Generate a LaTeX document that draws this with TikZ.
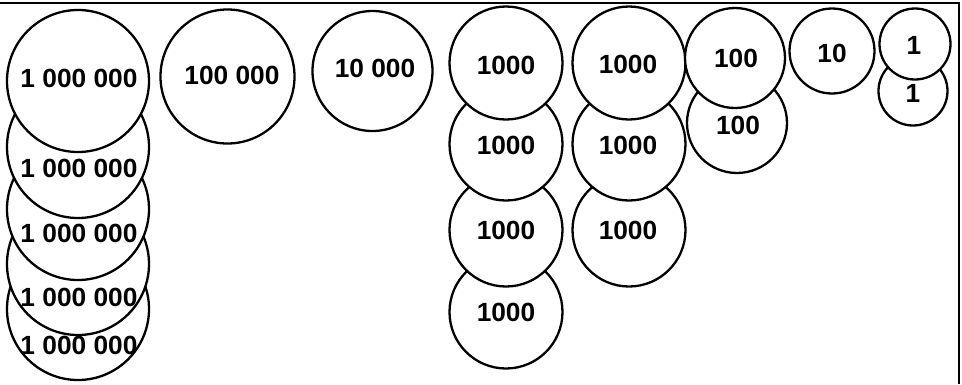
\documentclass[tikz,border=0pt]{standalone}
\usepackage{fontspec}
\setmainfont{Liberation Sans}
\begin{document}
\begin{tikzpicture}[x=1pt,y=-1pt,
  coin/.style={circle,draw=black,fill=white,line width=2.3pt,inner sep=0pt,minimum size=#1},
  val/.style={font=\fontsize{26.3}{26.3}\selectfont\bfseries,inner sep=0pt}]
\useasboundingbox (0,0) rectangle (962,384);
\coordinate (tl) at (0,3);
\coordinate (tr) at (959,3);
\coordinate (br) at (959,384);
\draw[line width=2.5pt] (tl) -- (tr) -- (br);
% column of 1 000 000 (bottom first, top in front)
\node[coin=142pt] (m5) at (78,309) {};
\node[val] (tm5) at (79,345) {1 000 000};
\node[coin=142pt] (m4) at (78,264) {};
\node[val] (tm4) at (79,297) {1 000 000};
\node[coin=142pt] (m3) at (78,209) {};
\node[val] (tm3) at (79,233) {1 000 000};
\node[coin=142pt] (m2) at (78,147) {};
\node[val] (tm2) at (79,168) {1 000 000};
\node[coin=142pt] (m1) at (78,81) {};
\node[val] (tm1) at (79,78) {1 000 000};
% 100 000
\node[coin=134pt] (ht) at (227.5,76.5) {};
\node[val] (tht) at (232,75) {100 000};
% 10 000
\node[coin=120pt] (tt) at (372.5,71) {};
\node[val] (ttt) at (375,68) {10 000};
% column A of 1000
\node[coin=113pt] (a4) at (506,312) {};
\node[val] (ta4) at (506,312) {1000};
\node[coin=113pt] (a3) at (506,230) {};
\node[val] (ta3) at (506,230) {1000};
\node[coin=113pt] (a2) at (506,144) {};
\node[val] (ta2) at (506,145) {1000};
\node[coin=113pt] (a1) at (506,63) {};
\node[val] (ta1) at (506,65) {1000};
% column B of 1000
\node[coin=113pt] (b3) at (629,230) {};
\node[val] (tb3) at (628,230) {1000};
\node[coin=113pt] (b2) at (629,144) {};
\node[val] (tb2) at (628,145) {1000};
\node[coin=113pt] (b1) at (629,63) {};
\node[val] (tb1) at (628,64) {1000};
% 100
\node[coin=100pt] (c2) at (737,123) {};
\node[val] (tc2) at (738,125) {100};
\node[coin=100pt] (c1) at (735,58) {};
\node[val] (tc1) at (736,58) {100};
% 10
\node[coin=85pt] (d) at (832,51) {};
\node[val] (td) at (832,53) {10};
% 1
\node[coin=69pt] (e2) at (913,91) {};
\node[val] (te2) at (913,93) {1};
\node[coin=71pt] (e1) at (915,44) {};
\node[val] (te1) at (914,45) {1};
\end{tikzpicture}
\end{document}
